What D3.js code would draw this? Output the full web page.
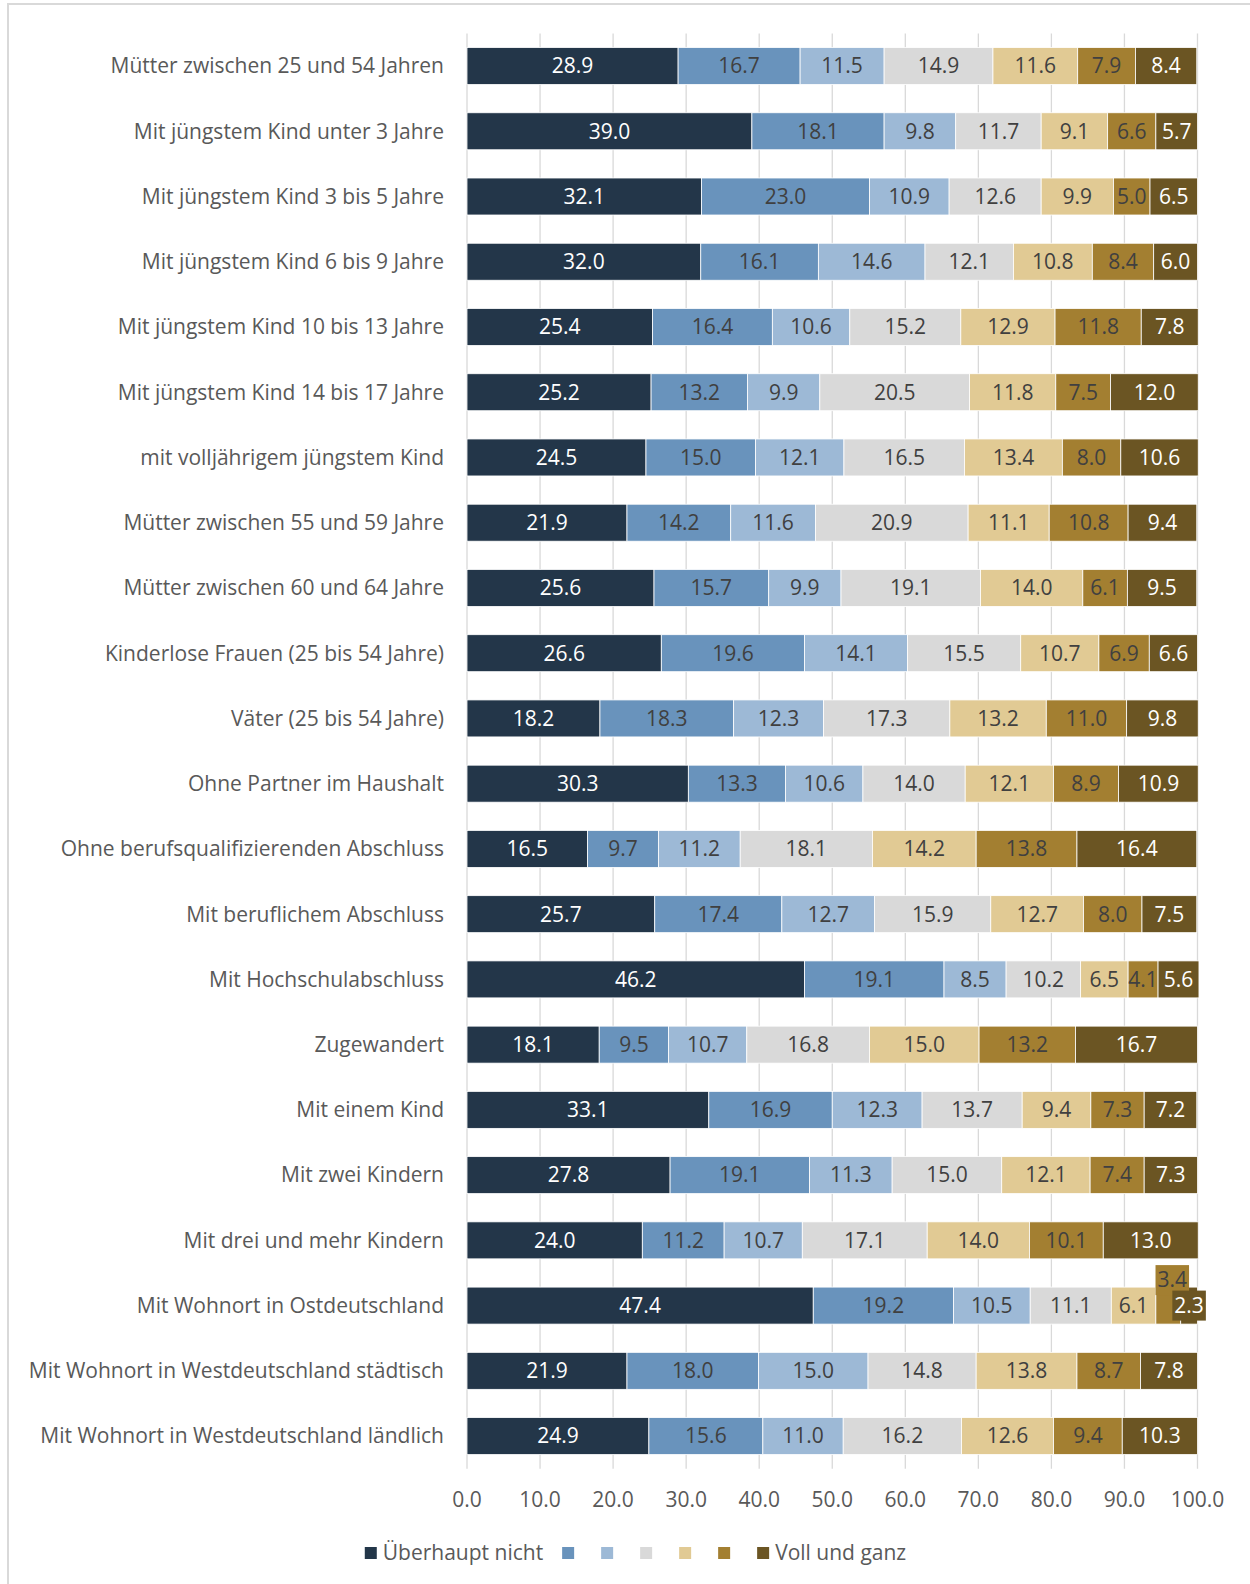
<!DOCTYPE html>
<html lang="de">
  <head>
    <meta charset="utf-8">
    <title>Zustimmung nach Gruppen</title>
    <script src="https://d3js.org/d3.v7.min.js"></script>
    <style>
      body { margin: 0; background: #fff; }
      svg text { font-family: 'Open Sans', sans-serif; }
    </style>
  </head>
  <body>
    <script>
      var width = 1250,
          height = 1584;

      // categories, top to bottom
      var groups = [
        "Mütter zwischen 25 und 54 Jahren",
        "Mit jüngstem Kind unter 3 Jahre",
        "Mit jüngstem Kind 3 bis 5 Jahre",
        "Mit jüngstem Kind 6 bis 9 Jahre",
        "Mit jüngstem Kind 10 bis 13 Jahre",
        "Mit jüngstem Kind 14 bis 17 Jahre",
        "mit volljährigem jüngstem Kind",
        "Mütter zwischen 55 und 59 Jahre",
        "Mütter zwischen 60 und 64 Jahre",
        "Kinderlose Frauen (25 bis 54 Jahre)",
        "Väter (25 bis 54 Jahre)",
        "Ohne Partner im Haushalt",
        "Ohne berufsqualifizierenden Abschluss",
        "Mit beruflichem Abschluss",
        "Mit Hochschulabschluss",
        "Zugewandert",
        "Mit einem Kind",
        "Mit zwei Kindern",
        "Mit drei und mehr Kindern",
        "Mit Wohnort in Ostdeutschland",
        "Mit Wohnort in Westdeutschland städtisch",
        "Mit Wohnort in Westdeutschland ländlich"
      ];

      // one array per answer level, same order as groups
      var level1 = [28.9, 39.0, 32.1, 32.0, 25.4, 25.2, 24.5, 21.9, 25.6, 26.6, 18.2, 30.3, 16.5, 25.7, 46.2, 18.1, 33.1, 27.8, 24.0, 47.4, 21.9, 24.9];
      var level2 = [16.7, 18.1, 23.0, 16.1, 16.4, 13.2, 15.0, 14.2, 15.7, 19.6, 18.3, 13.3, 9.7, 17.4, 19.1, 9.5, 16.9, 19.1, 11.2, 19.2, 18.0, 15.6];
      var level3 = [11.5, 9.8, 10.9, 14.6, 10.6, 9.9, 12.1, 11.6, 9.9, 14.1, 12.3, 10.6, 11.2, 12.7, 8.5, 10.7, 12.3, 11.3, 10.7, 10.5, 15.0, 11.0];
      var level4 = [14.9, 11.7, 12.6, 12.1, 15.2, 20.5, 16.5, 20.9, 19.1, 15.5, 17.3, 14.0, 18.1, 15.9, 10.2, 16.8, 13.7, 15.0, 17.1, 11.1, 14.8, 16.2];
      var level5 = [11.6, 9.1, 9.9, 10.8, 12.9, 11.8, 13.4, 11.1, 14.0, 10.7, 13.2, 12.1, 14.2, 12.7, 6.5, 15.0, 9.4, 12.1, 14.0, 6.1, 13.8, 12.6];
      var level6 = [7.9, 6.6, 5.0, 8.4, 11.8, 7.5, 8.0, 10.8, 6.1, 6.9, 11.0, 8.9, 13.8, 8.0, 4.1, 13.2, 7.3, 7.4, 10.1, 3.4, 8.7, 9.4];
      var level7 = [8.4, 5.7, 6.5, 6.0, 7.8, 12.0, 10.6, 9.4, 9.5, 6.6, 9.8, 10.9, 16.4, 7.5, 5.6, 16.7, 7.2, 7.3, 13.0, 2.3, 7.8, 10.3];

      var levelNames = ["Überhaupt nicht", "", "", "", "", "", "Voll und ganz"];
      var levelColors = ["#233649", "#6993bc", "#9db9d6", "#d9d9d9", "#e1ca94", "#a37f31", "#6b5523"];
      var lightText = [true, false, false, false, false, false, true];

      var xTicks = [0, 10, 20, 30, 40, 50, 60, 70, 80, 90, 100];

      var levels = [level1, level2, level3, level4, level5, level6, level7];

      var rows = groups.map(function(g, i) {
        var row = { group: g };
        levels.forEach(function(l, k) { row["k" + k] = l[i]; });
        return row;
      });
      var keys = levels.map(function(l, k) { return "k" + k; });
      var series = d3.stack().keys(keys)(rows);

      var margin = { left: 467, right: 52.5, top: 33.4, bottom: 115.3 };
      var fs = "21px";

      var x = d3.scaleLinear()
        .domain([0, 100])
        .range([margin.left, width - margin.right]);

      var y = d3.scaleBand()
        .domain(groups)
        .range([margin.top, height - margin.bottom])
        .paddingInner(0.433)
        .paddingOuter(0.2165);

      var svg = d3.select("body").append("svg")
        .attr("width", width)
        .attr("height", height);

      // frame of the chart area (cropped: only top and left visible)
      svg.append("rect").attr("x", 7).attr("y", 3).attr("width", width - 7).attr("height", 2).attr("fill", "#d9d9d9");
      svg.append("rect").attr("x", 7).attr("y", 3).attr("width", 2).attr("height", height - 3).attr("fill", "#d9d9d9");

      // gridlines
      svg.append("g")
        .selectAll("line")
        .data(xTicks)
        .enter().append("line")
        .attr("x1", function(d) { return x(d); })
        .attr("x2", function(d) { return x(d); })
        .attr("y1", margin.top)
        .attr("y2", height - margin.bottom)
        .style("stroke", "#d9d9d9")
        .style("stroke-width", 1.3);

      // tick labels
      svg.append("g")
        .selectAll("text")
        .data(xTicks)
        .enter().append("text")
        .attr("x", function(d) { return x(d); })
        .attr("y", 1500)
        .attr("dy", "0.35em")
        .attr("text-anchor", "middle")
        .style("font-size", fs)
        .style("fill", "#595959")
        .text(function(d) { return d.toFixed(1); });

      // category labels
      svg.append("g")
        .selectAll("text")
        .data(groups)
        .enter().append("text")
        .attr("x", margin.left - 23)
        .attr("y", function(d) { return y(d) + y.bandwidth() / 2; })
        .attr("dy", "0.35em")
        .attr("text-anchor", "end")
        .style("font-size", fs)
        .style("fill", "#595959")
        .text(function(d) { return d; });

      // bars
      var layer = svg.append("g")
        .selectAll("g")
        .data(series)
        .enter().append("g")
        .attr("fill", function(d, k) { return levelColors[k]; });

      layer.selectAll("rect")
        .data(function(d) { return d; })
        .enter().append("rect")
        .attr("x", function(d) { return x(d[0]); })
        .attr("y", function(d) { return y(d.data.group); })
        .attr("width", function(d) { return x(d[1]) - x(d[0]); })
        .attr("height", y.bandwidth())
        .style("stroke", "#fff")
        .style("stroke-width", 0.8);

      // data labels
      var labelLayer = svg.append("g");
      groups.forEach(function(g, i) {
        var tight = [];
        series.forEach(function(s, k) {
          var seg = s[i];
          var cx = (x(seg[0]) + x(seg[1])) / 2;
          var cy = y(g) + y.bandwidth() / 2;
          var lab = labelLayer.append("g");
          var t = lab.append("text")
            .attr("x", cx)
            .attr("y", cy)
            .attr("dy", "0.35em")
            .attr("text-anchor", "middle")
            .style("font-size", fs)
            .style("fill", lightText[k] ? "#ffffff" : "#404040")
            .text(levels[k][i].toFixed(1));
          var w = t.node().getComputedTextLength();
          if (w > x(seg[1]) - x(seg[0]) + 1) {
            tight.push({ g: lab, t: t, w: w, k: k, cx: cx, cy: cy });
          }
        });
        // labels that do not fit: boxed callouts, earlier one lifted above the bar
        tight.forEach(function(o, j) {
          var dx = 0, dy = 0;
          if (j < tight.length - 1) { dx = 4; dy = -25.5; }
          o.t.attr("x", o.cx + dx).attr("y", o.cy + dy);
          o.g.insert("rect", "text")
            .attr("x", o.cx + dx - o.w / 2 - 2)
            .attr("y", o.cy + dy - 15)
            .attr("width", o.w + 4)
            .attr("height", 30)
            .attr("fill", levelColors[o.k]);
        });
      });

      // legend
      var legend = svg.append("g");
      var lx = 0;
      levelNames.forEach(function(name, k) {
        var item = legend.append("g").attr("transform", "translate(" + lx + ",0)");
        item.append("rect")
          .attr("x", 0)
          .attr("y", 1553 - 6)
          .attr("width", 12)
          .attr("height", 12)
          .attr("fill", levelColors[k]);
        var adv = 39;
        if (name) {
          var t = item.append("text")
            .attr("x", 18)
            .attr("y", 1553)
            .attr("dy", "0.35em")
            .style("font-size", fs)
            .style("fill", "#595959")
            .text(name);
          adv = 18 + t.node().getComputedTextLength() + 19;
        }
        lx += adv;
      });
      var lw = lx - 19;
      legend.attr("transform", "translate(" + (635.5 - lw / 2) + ",0)");
    </script>
  </body>
</html>
